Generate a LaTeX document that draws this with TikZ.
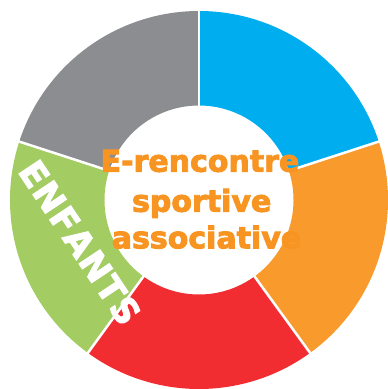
\documentclass[tikz,border=0pt]{standalone}
\usepackage{fontspec}
\setmainfont{DejaVu Sans}
\definecolor{cblue}{RGB}{0,173,239}
\definecolor{corange}{RGB}{248,154,44}
\definecolor{cred}{RGB}{242,45,50}
\definecolor{cgreen}{RGB}{163,204,98}
\definecolor{cgray}{RGB}{140,141,144}
\definecolor{ctext}{RGB}{247,148,34}
\newcommand\lsp{\kern1pt}
\newcommand\heavy[1]{\special{pdf:literal direct 2 Tr 0.9 w}#1\special{pdf:literal direct 0 Tr}}
\begin{document}
\begin{tikzpicture}[x=1pt,y=1pt,
  txt/.style={font=\bfseries\fontsize{30}{30}\selectfont, text=ctext, inner sep=0pt},
  enf/.style={font=\bfseries\fontsize{35}{35}\selectfont, text=white, inner sep=0pt}]
\useasboundingbox (0,0) rectangle (388,389);
\coordinate (c) at (199,189);
\foreach \a/\col in {18/cblue, -54/corange, -126/cred, 162/cgreen, 90/cgray} {
  \pgfmathsetmacro\b{\a+72}
  \fill[\col, shift={(c)}] (\a:189) arc[start angle=\a, end angle=\b, radius=189]
     -- (\b:94.5) arc[start angle=\b, end angle=\a, radius=94.5] -- cycle;
}
\foreach \a in {18,90,162,234,306} {
  \draw[white, line width=2.5pt, shift={(c)}] (\a:92) -- (\a:191);
}
\node[txt, anchor=base] (l1) at (200,217.3) {\heavy{E-rencontre}};
\node[txt, anchor=base] (l2) at (201.7,177.3) {\heavy{sportive}};
\node[txt, anchor=base] (l3) at (206.5,140.7) {\heavy{associative}};
\node[enf, rotate=-56.3] (e) at (80,146.5) {\heavy{E\lsp N\lsp F\lsp A\lsp N\lsp T\lsp S}};
\end{tikzpicture}
\end{document}
